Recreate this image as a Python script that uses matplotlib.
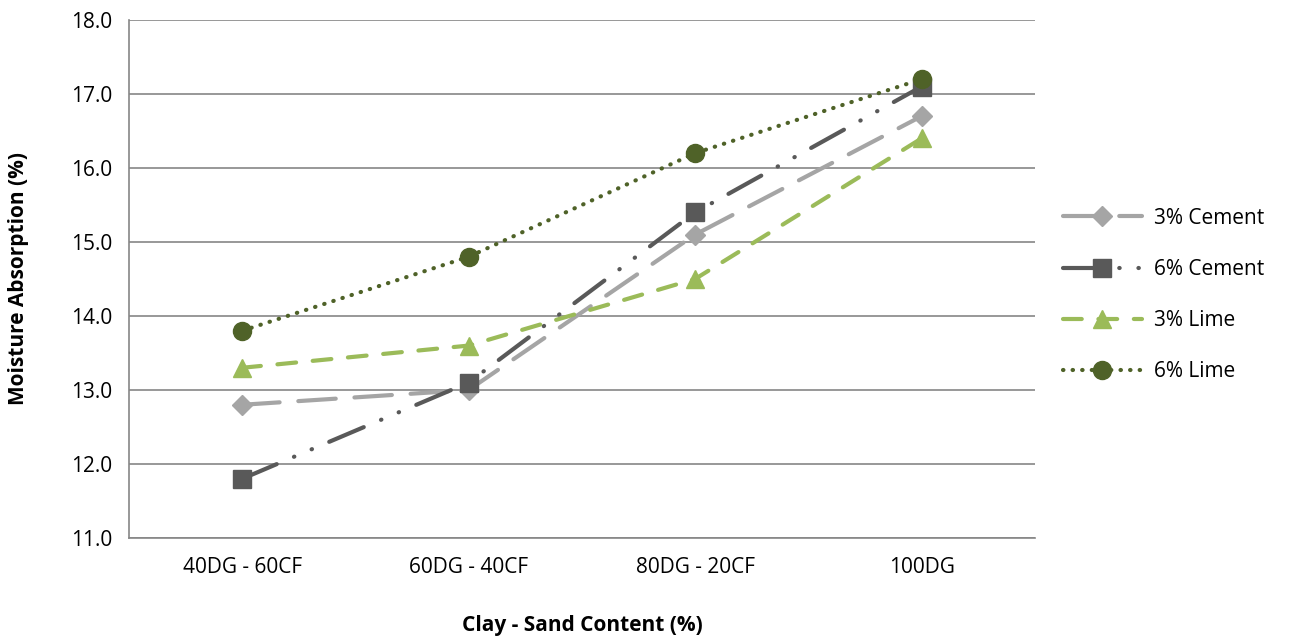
import matplotlib
matplotlib.use("Agg")
import matplotlib.pyplot as plt

categories = ["40DG - 60CF", "60DG - 40CF", "80DG - 20CF", "100DG"]
cement3 = [12.8, 13.0, 15.1, 16.7]
cement6 = [11.8, 13.1, 15.4, 17.1]
lime3 = [13.3, 13.6, 14.5, 16.4]
lime6 = [13.8, 14.8, 16.2, 17.2]
series_names = ["3% Cement", "6% Cement", "3% Lime", "6% Lime"]
yticks = [11.0, 12.0, 13.0, 14.0, 15.0, 16.0, 17.0, 18.0]

plt.rcParams['font.family'] = ['Open Sans', 'DejaVu Sans']

fig = plt.figure(figsize=(12.92, 6.43), dpi=100)
ax = fig.add_axes([0.0998, 0.1633, 0.7012, 0.8057])

x = list(range(len(categories)))
lw = 3.0
ax.plot(x, cement3, color="#A5A5A5", lw=lw, dashes=(9, 4.5), dash_capstyle="round",
        marker="D", markersize=10, label=series_names[0], zorder=3)
ax.plot(x, cement6, color="#595959", lw=lw, dashes=(9, 4.5, 0.1, 4.5, 0.1, 4.5), dash_capstyle="round",
        marker="s", markersize=13, label=series_names[1], zorder=3)
ax.plot(x, lime3, color="#9BBB59", lw=lw, dashes=(4.5, 4), dash_capstyle="round",
        marker="^", markersize=13, label=series_names[2], zorder=3)
ax.plot(x, lime6, color="#4F6228", lw=lw, dashes=(0.1, 2.2), dash_capstyle="round",
        marker="o", markersize=13, label=series_names[3], zorder=4)

ax.set_xlim(-0.5, len(categories) - 0.5)
ax.set_ylim(11.0, 18.0)
ax.set_yticks(yticks)
ax.set_yticklabels([f"{v:.1f}" for v in yticks])
ax.set_xticks(x)
ax.set_xticklabels(categories)
ax.yaxis.grid(True, color="#868686", lw=1.2)
ax.set_axisbelow(True)
for s in ["top", "right"]:
    ax.spines[s].set_visible(False)
ax.spines["left"].set_color("#868686")
ax.spines["bottom"].set_color("#868686")
ax.spines["left"].set_linewidth(1.2)
ax.spines["bottom"].set_linewidth(1.2)
ax.tick_params(axis="y", length=0, labelsize=15, colors="black", pad=12)
ax.tick_params(axis="x", length=0, labelsize=15, colors="black", pad=14)

ax.set_xlabel("Clay - Sand Content (%)", fontsize=15, fontweight="bold", labelpad=26)
ax.set_ylabel("Moisture Absorption (%)", fontsize=15, fontweight="bold", labelpad=30)

ax.legend(loc="center left", bbox_to_anchor=(1.01, 0.469), frameon=False, fontsize=15,
          handlelength=3.8, labelspacing=1.45, handletextpad=0.6)

fig.savefig("out.png", dpi=100)
